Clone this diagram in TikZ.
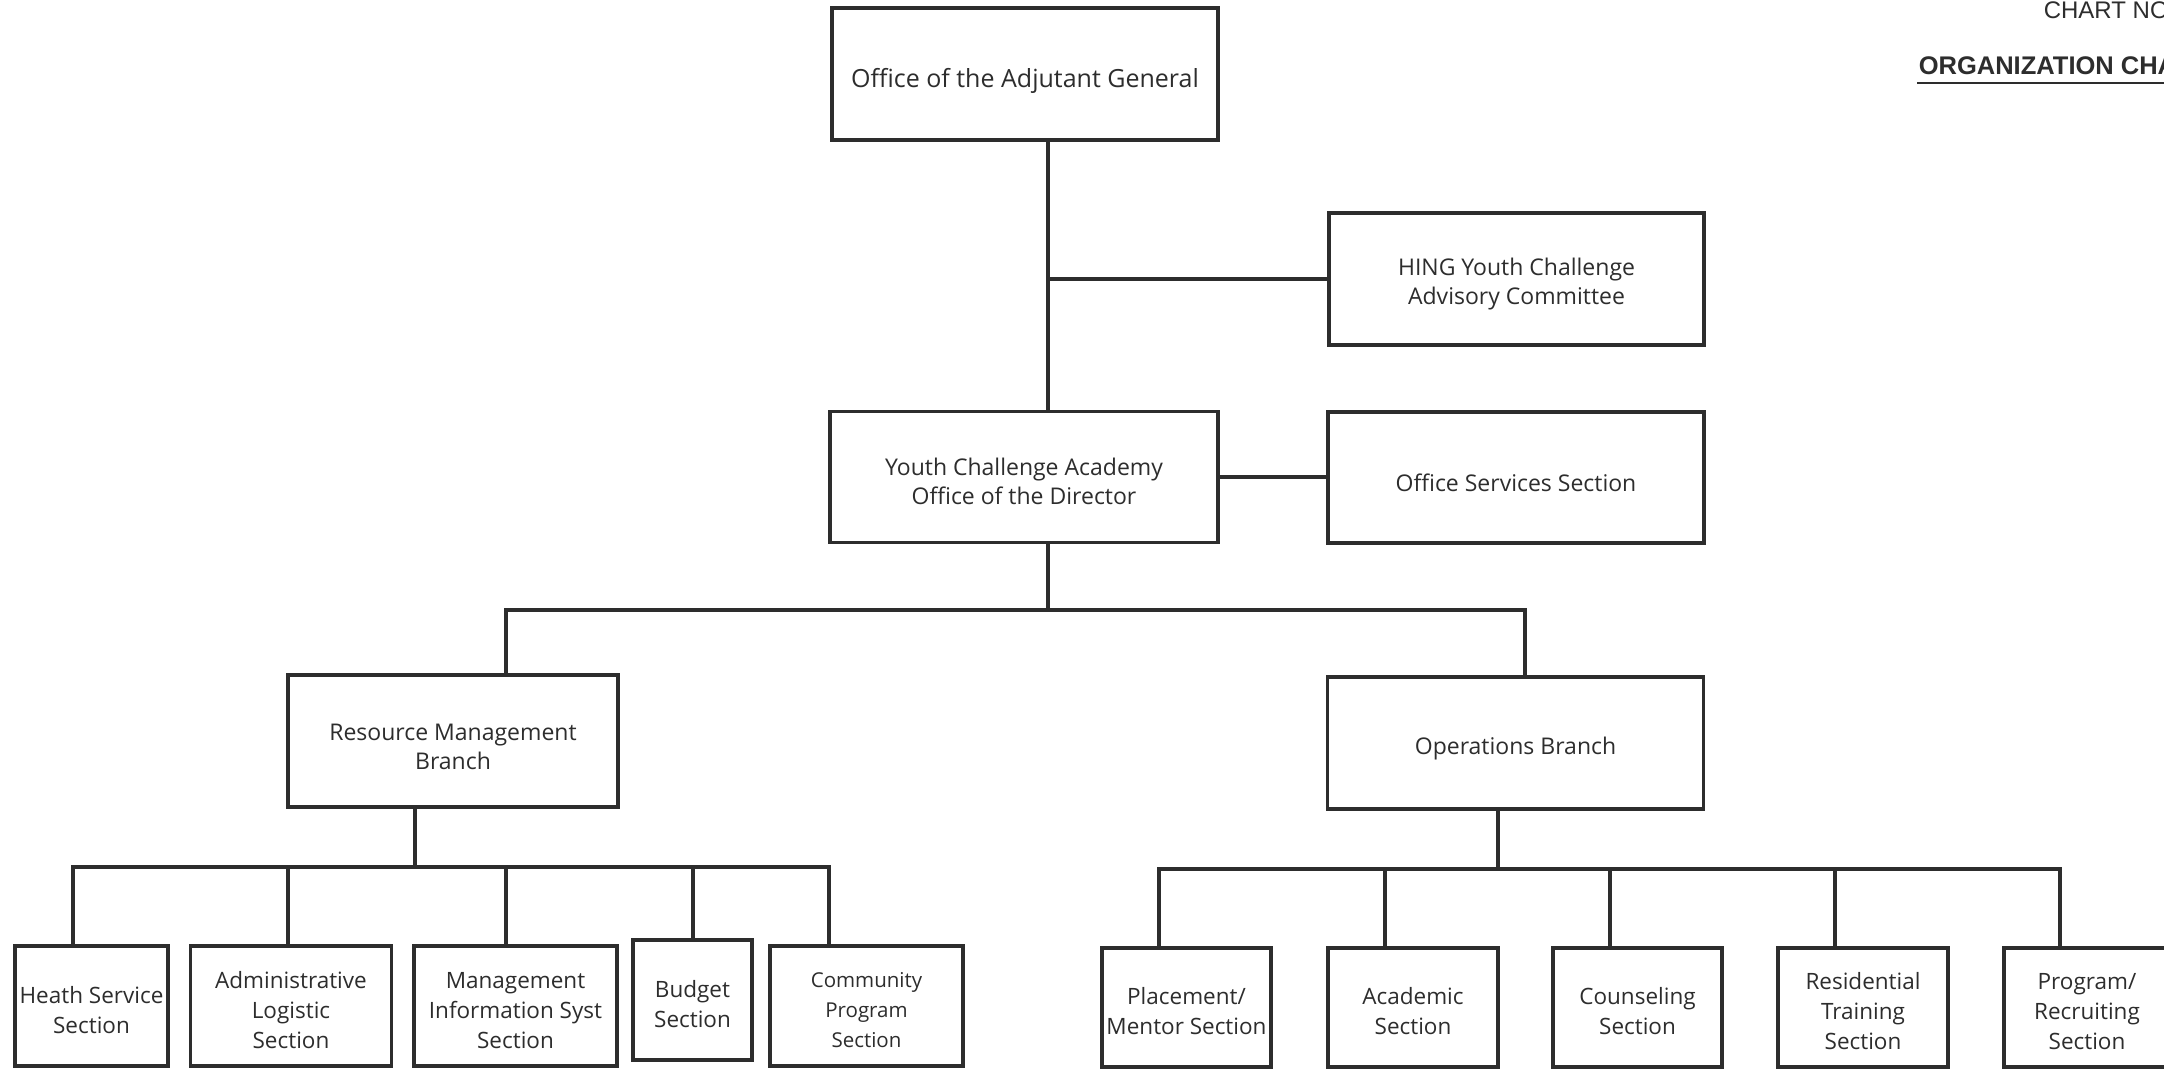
\documentclass[tikz,border=0pt]{standalone}
\usepackage{fontspec}
\setmainfont{Open Sans}
\newfontfamily\arialfont{Liberation Sans}
\definecolor{ink}{RGB}{45,45,45}
\newcommand{\liftup}[1]{\rule{0pt}{#1}}
\begin{document}
\begin{tikzpicture}[x=1pt,y=-1pt, line width=3.6pt, draw=ink,
 box/.style={draw=ink, line width=3.8pt, align=center, inner sep=0pt, text=ink},
 upper/.style={box, font=\fontsize{23}{29}\selectfont},
 upperbig/.style={box, font=\fontsize{25}{30}\selectfont},
 lower/.style={box, font=\fontsize{22.5}{30}\selectfont},
 lowersmall/.style={box, font=\fontsize{20.5}{30}\selectfont},
 link/.style={draw=ink, line width=3.6pt}]
\useasboundingbox (0,0) rectangle (2164,1070);
\clip (0,0) rectangle (2164,1070);
\fill[white] (0,0) rectangle (2164,1070);

% header
\node[font=\arialfont\fontsize{24}{24}\selectfont, anchor=base west, inner sep=0pt, text=ink] (chartno) at (2042,19) {CHART NO};
\node[font=\arialfont\bfseries\fontsize{25.5}{26}\selectfont, anchor=base west, inner sep=0pt, text=ink] (orgchart) at (1917,75) {ORGANIZATION CHA};
\draw[line width=2.4pt, draw=ink] ([yshift=-8pt]orgchart.base west) -- ([yshift=-8pt]orgchart.base east);

% upper boxes
\node[upperbig, minimum width=386, minimum height=132] (adj) at (1025,74) {\liftup{1.3em}Office of the Adjutant General};
\node[upper, minimum width=375, minimum height=132] (hing) at (1516.5,279) {\liftup{1.2em}HING Youth Challenge\\Advisory Committee};
\node[upper, minimum width=388, minimum height=131] (dir) at (1024,477) {\liftup{1.15em}Youth Challenge Academy\\Office of the Director};
\node[upper, minimum width=376, minimum height=131] (oss) at (1516,477.5) {\liftup{1.2em}Office Services Section};
\node[upper, minimum width=330, minimum height=132] (rm) at (453,741) {\liftup{1.2em}Resource Management\\Branch};
\node[upper, minimum width=376, minimum height=132] (ops) at (1515.5,743) {\liftup{1.2em}Operations Branch};

% lower left
\node[lower, minimum width=153, minimum height=120] (heath) at (91.5,1006) {\liftup{1.08em}Heath Service\\Section};
\node[lower, minimum width=201, minimum height=120] (admin) at (291,1006) {\liftup{1.08em}Administrative\\Logistic\\Section};
\node[lower, minimum width=203, minimum height=120] (mgmt) at (515.5,1006) {\liftup{1.08em}Management\\Information Syst\\Section};
\node[lower, minimum width=119, minimum height=120] (budget) at (692.5,1000) {\liftup{1.08em}Budget\\Section};
\node[lowersmall, minimum width=193, minimum height=120] (comm) at (866.5,1006) {\liftup{1.1em}Community\\Program\\Section};

% lower right
\node[lower, minimum width=169, minimum height=119] (place) at (1186.5,1007.5) {\liftup{1.08em}Placement/\\Mentor Section};
\node[lower, minimum width=170, minimum height=119] (acad) at (1413,1007.5) {\liftup{1.08em}Academic\\Section};
\node[lower, minimum width=169, minimum height=119] (couns) at (1637.5,1007.5) {\liftup{1.08em}Counseling\\Section};
\node[lower, minimum width=170, minimum height=119] (resid) at (1863,1007.5) {\liftup{1.08em}Residential\\Training\\Section};
\node[lower, minimum width=166, minimum height=119] (prog) at (2087,1007.5) {\liftup{1.08em}Program/\\Recruiting\\Section};

% spine
\coordinate (s1) at (1048,279);
\coordinate (b1) at (1048,610);
\coordinate (b1l) at (506,610);
\coordinate (b1r) at (1525,610);
\draw[link] (adj.south -| s1) -- (dir.north -| s1);
\draw[link] (s1) -- (s1 -| hing.west);
\draw[link] (dir.east) -- (dir.east -| oss.west);
\draw[link] (dir.south -| b1) -- (b1);
\draw[link] (rm.north -| b1l) -- (b1l) -- (b1r) -- (b1r |- ops.north);

% resource management bar
\coordinate (r0) at (415,867);
\coordinate (r1) at (73,867);
\coordinate (r2) at (288,867);
\coordinate (r3) at (506,867);
\coordinate (r4) at (693,867);
\coordinate (r5) at (829,867);
\draw[link] (rm.south -| r0) -- (r0);
\draw[link] (heath.north -| r1) -- (r1) -- (r5) -- (r5 |- comm.north);
\draw[link] (r2) -- (r2 |- admin.north);
\draw[link] (r3) -- (r3 |- mgmt.north);
\draw[link] (r4) -- (r4 |- budget.north);

% operations bar
\coordinate (o0) at (1498,869);
\coordinate (o1) at (1159,869);
\coordinate (o2) at (1385,869);
\coordinate (o3) at (1610,869);
\coordinate (o4) at (1835,869);
\coordinate (o5) at (2060,869);
\draw[link] (ops.south -| o0) -- (o0);
\draw[link] (place.north -| o1) -- (o1) -- (o5) -- (o5 |- prog.north);
\draw[link] (o2) -- (o2 |- acad.north);
\draw[link] (o3) -- (o3 |- couns.north);
\draw[link] (o4) -- (o4 |- resid.north);
\end{tikzpicture}
\end{document}
